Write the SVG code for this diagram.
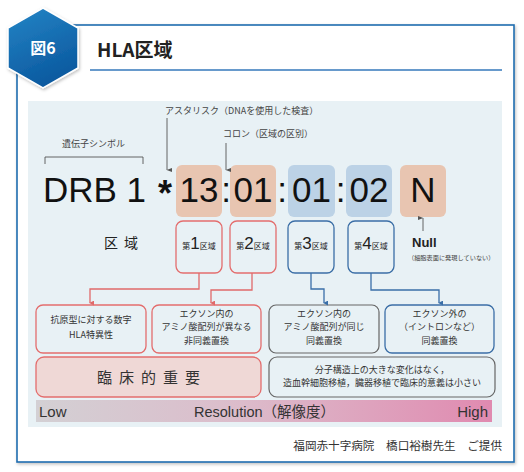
<svg xmlns="http://www.w3.org/2000/svg" width="524" height="472" viewBox="0 0 524 472">
<defs>
  <linearGradient id="hexg" x1="0" y1="0" x2="0.4" y2="1">
    <stop offset="0" stop-color="#2585c6"/>
    <stop offset="1" stop-color="#0b5aa0"/>
  </linearGradient>
  <linearGradient id="resg" x1="0" y1="0" x2="1" y2="0">
    <stop offset="0" stop-color="#d3d0d4"/>
    <stop offset="0.45" stop-color="#dcbccb"/>
    <stop offset="1" stop-color="#e08ab0"/>
  </linearGradient>
  <filter id="sh" x="-10%" y="-10%" width="130%" height="130%">
    <feDropShadow dx="1" dy="1.5" stdDeviation="1.5" flood-color="#000" flood-opacity="0.25"/>
  </filter>
  <marker id="arR" viewBox="0 0 6 6" refX="3" refY="5" markerWidth="5" markerHeight="5" orient="auto-start-reverse" markerUnits="userSpaceOnUse">
    <path d="M0,0 L6,0 L3,6 Z" fill="#e06a6a"/>
  </marker>
  <marker id="arB" viewBox="0 0 6 6" refX="3" refY="5" markerWidth="5" markerHeight="5" orient="auto-start-reverse" markerUnits="userSpaceOnUse">
    <path d="M0,0 L6,0 L3,6 Z" fill="#3a6fa8"/>
  </marker>
  <marker id="arG" viewBox="0 0 6 8" refX="3" refY="7.5" markerWidth="4" markerHeight="6" orient="auto" markerUnits="userSpaceOnUse">
    <path d="M0,0 L6,0 L3,8 Z" fill="#555"/>
  </marker>
</defs>
<style>
  .jp{font-family:"Noto Sans CJK JP","Liberation Sans",sans-serif}
  .lat{font-family:"Liberation Sans","Noto Sans CJK JP",sans-serif}
  .num{font-family:"Liberation Sans",sans-serif;font-size:35px;fill:#111;text-anchor:middle}
  .lab{font-size:9px;fill:#444}
  .desc{font-size:9px;fill:#333;text-anchor:middle}
  .salmon{fill:#e8c5b1}
  .blue{fill:#bcd2e6}
  .rbox{fill:none;stroke:#e36d6d;stroke-width:1.3}
  .bbox{fill:none;stroke:#3b6ea6;stroke-width:1.3}
  .gbox{fill:none;stroke:#666;stroke-width:1.2}
  .rline{fill:none;stroke:#e06a6a;stroke-width:1.3}
  .bline{fill:none;stroke:#3a6fa8;stroke-width:1.3}
  .gline{fill:none;stroke:#555;stroke-width:0.9}
</style>

<g id="frame">
  <rect x="17" y="25" width="497" height="437" fill="#fff" stroke="#1f6db0" stroke-width="1.6" filter="url(#sh)"/>
  <line x1="90" y1="70" x2="502" y2="70" stroke="#3479bb" stroke-width="1.6"/>
  <text x="97" y="57" class="jp" font-size="19" font-weight="bold" fill="#222">HLA区域</text>
</g>

<g id="badge">
  <polygon points="43,8 78,28 78,68 43,88 8,68 8,28" fill="url(#hexg)" stroke="#fff" stroke-width="1.5" filter="url(#sh)"/>
  <text x="43" y="54" class="jp" font-size="16" font-weight="bold" fill="#fff" text-anchor="middle">図6</text>
</g>

<g id="panel">
  <rect x="28" y="101" width="474" height="326" fill="#e8f1f5"/>
</g>

<g id="labels">
  <text x="165" y="114" class="jp lab" font-size="9.5">アスタリスク（DNAを使用した検査）</text>
  <text x="223" y="137" class="jp lab">コロン（区域の区別）</text>
  <text x="62" y="147" class="jp lab">遺伝子シンボル</text>
  <path d="M45,164 V157 H143 V164" class="gline"/>
</g>

<g id="allele">
  <text x="43" y="202" class="lat" font-size="35" fill="#111">DRB 1</text>
  <text x="165" y="206" class="lat" font-size="36" font-weight="bold" fill="#111" text-anchor="middle">*</text>
  <rect x="176" y="165" width="46" height="52" rx="6" class="salmon"/>
  <rect x="230" y="165" width="46" height="52" rx="6" class="salmon"/>
  <rect x="288" y="165" width="47" height="52" rx="6" class="blue"/>
  <rect x="346" y="165" width="46" height="52" rx="6" class="blue"/>
  <rect x="400" y="165" width="46" height="52" rx="6" class="salmon"/>
  <text x="199" y="202" class="num">13</text>
  <text x="226" y="202" class="num">:</text>
  <text x="253" y="202" class="num">01</text>
  <text x="282" y="202" class="num">:</text>
  <text x="311.5" y="202" class="num">01</text>
  <text x="340.5" y="202" class="num">:</text>
  <text x="369" y="202" class="num">02</text>
  <text x="423" y="202" class="num">N</text>
</g>

<g id="null">
  <text x="412" y="247" class="lat" font-size="13" font-weight="bold" fill="#222">Null</text>
  <text x="408" y="260" class="jp" font-size="6.2" fill="#444">（細胞表面に発現していない）</text>
</g>

<g id="region-label">
  <text x="124" y="248" class="jp" font-size="14" fill="#222" text-anchor="middle" letter-spacing="6">区域</text>
</g>

<g id="region1">
  <rect x="176" y="221" width="46" height="52" rx="7" class="rbox"/>
  <text x="199" y="249" class="jp" fill="#222" text-anchor="middle"><tspan font-size="8">第</tspan><tspan class="lat" font-size="17">1</tspan><tspan font-size="8">区域</tspan></text>
</g>
<g id="region2">
  <rect x="230" y="221" width="46" height="52" rx="7" class="rbox"/>
  <text x="253" y="249" class="jp" fill="#222" text-anchor="middle"><tspan font-size="8">第</tspan><tspan class="lat" font-size="17">2</tspan><tspan font-size="8">区域</tspan></text>
</g>
<g id="region3">
  <rect x="288" y="221" width="46" height="52" rx="7" class="bbox"/>
  <text x="311" y="249" class="jp" fill="#222" text-anchor="middle"><tspan font-size="8">第</tspan><tspan class="lat" font-size="17">3</tspan><tspan font-size="8">区域</tspan></text>
</g>
<g id="region4">
  <rect x="348" y="221" width="46" height="52" rx="7" class="bbox"/>
  <text x="371" y="249" class="jp" fill="#222" text-anchor="middle"><tspan font-size="8">第</tspan><tspan class="lat" font-size="17">4</tspan><tspan font-size="8">区域</tspan></text>
</g>

<g id="descA">
  <rect x="36" y="305" width="110" height="48" rx="7" class="rbox"/>
  <text x="91" y="323" class="jp desc">抗原型に対する数字</text>
  <text x="91" y="338" class="jp desc">HLA特異性</text>
</g>
<g id="descB">
  <rect x="152" y="305" width="109" height="48" rx="7" class="rbox"/>
  <text x="206.5" y="317" class="jp desc">エクソン内の</text>
  <text x="206.5" y="330" class="jp desc">アミノ酸配列が異なる</text>
  <text x="206.5" y="344" class="jp desc">非同義置換</text>
</g>
<g id="descC">
  <rect x="269" y="305" width="110" height="48" rx="7" class="gbox"/>
  <text x="324" y="317" class="jp desc">エクソン内の</text>
  <text x="324" y="330" class="jp desc">アミノ酸配列が同じ</text>
  <text x="324" y="344" class="jp desc">同義置換</text>
</g>
<g id="descD">
  <rect x="385" y="305" width="109" height="48" rx="7" class="bbox"/>
  <text x="439.5" y="317" class="jp desc">エクソン外の</text>
  <text x="439.5" y="330" class="jp desc">（イントロンなど）</text>
  <text x="439.5" y="344" class="jp desc">同義置換</text>
</g>

<g id="clinical">
  <rect x="36" y="357" width="225" height="40" rx="8" fill="#efd8d6" stroke="#e36d6d" stroke-width="1.3"/>
  <text x="152" y="383" class="jp" font-size="15" fill="#333" text-anchor="middle" letter-spacing="7">臨床的重要</text>
</g>
<g id="minor">
  <rect x="269" y="357" width="226" height="40" rx="8" fill="none" stroke="#666" stroke-width="1.2"/>
  <text x="382" y="373" class="jp desc">分子構造上の大きな変化はなく，</text>
  <text x="382" y="386" class="jp desc">造血幹細胞移植，臓器移植で臨床的意義は小さい</text>
</g>

<g id="resolution">
  <rect x="36" y="400" width="456" height="22" fill="url(#resg)"/>
  <text x="39" y="417" class="lat" font-size="15" fill="#333">Low</text>
  <text x="194" y="417" class="lat" font-size="14.5" fill="#333">Resolution（解像度）</text>
  <text x="488" y="417" class="lat" font-size="15" fill="#333" text-anchor="end">High</text>
</g>

<g id="credit">
  <text x="502" y="450" class="jp" font-size="11.6" fill="#333" text-anchor="end">福岡赤十字病院　橋口裕樹先生　ご提供</text>
</g>

<g id="connectors">
  <line x1="167" y1="118" x2="167" y2="170" class="gline" marker-end="url(#arG)"/>
  <line x1="226" y1="143" x2="226" y2="170" class="gline" marker-end="url(#arG)"/>
  <line x1="423" y1="231" x2="423" y2="218" class="gline" marker-end="url(#arG)"/>
  <path d="M199,273 V289 H90 V303" class="rline" marker-end="url(#arR)"/>
  <path d="M252,273 V290 H211 V303" class="rline" marker-end="url(#arR)"/>
  <path d="M311,273 V289 H324 V303" class="bline" marker-end="url(#arB)"/>
  <path d="M371,273 V290 H439 V303" class="bline" marker-end="url(#arB)"/>
</g>
</svg>
